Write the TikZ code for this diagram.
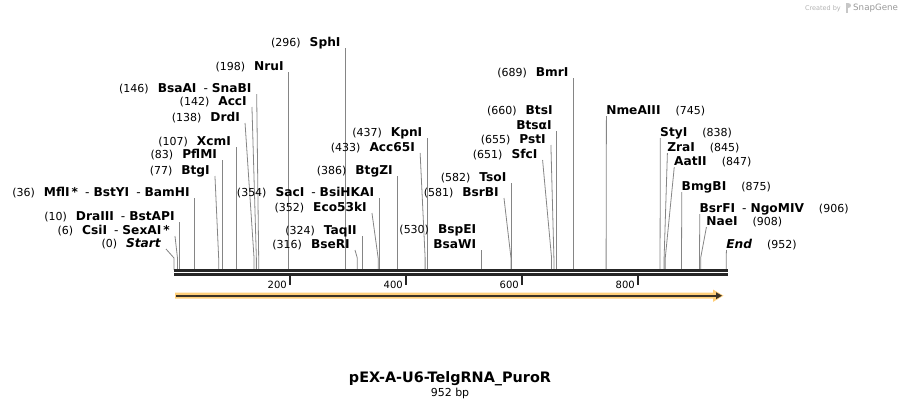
\documentclass[tikz,border=0pt]{standalone}
\usepackage{fontspec}
\setmainfont{DejaVu Sans}
\usetikzlibrary{arrows.meta,positioning}
\definecolor{cutgray}{HTML}{858585}
\definecolor{bardark}{HTML}{262626}
\definecolor{featfill}{HTML}{FFCF7A}
\definecolor{featline}{HTML}{3C3326}
\newcommand\numf[1]{{\fontsize{11}{13}\selectfont #1}}
\newcommand\enzf[1]{{\fontsize{12.2}{14}\selectfont\bfseries #1}}
\newcommand\leftlab[2]{\numf{(#1)}\hspace{9pt}\enzf{#2}}
\newcommand\rightlab[2]{\enzf{#1}\hspace{15pt}\numf{(#2)}}
\newcommand\dsep{\hspace{7pt}{\mdseries -}\hspace{4pt}}
\tikzset{
  cutline/.style={draw=cutgray,line width=0.8pt},
  barline/.style={draw=bardark,line width=2.7pt},
  ticks/.style={draw=bardark,line width=1.6pt},
  lab/.style={inner sep=0pt},
}
\begin{document}
\begin{tikzpicture}[x=1pt,y=-1pt]
\useasboundingbox (0,0) rectangle (902,408);
\def\sx#1{174+0.58*#1}
\foreach \p/\dx/\ly/\t in {
  0/-8/247/{\leftlab{0}{\itshape Start}},
  6/-2.5/234/{\leftlab{6}{CsiI\dsep SexAI\,*}},
  10/0/220/{\leftlab{10}{DraIII\dsep BstAPI}},
  36/0/196/{\leftlab{36}{MflI\,*\dsep BstYI\dsep BamHI}},
  77/-3.7/174/{\leftlab{77}{BtgI}},
  83/0/158/{\leftlab{83}{PflMI}},
  107/0/145/{\leftlab{107}{XcmI}},
  138/-9/121/{\leftlab{138}{DrdI}},
  142/-4.4/105/{\leftlab{142}{AccI}},
  146/-2/92/{\leftlab{146}{BsaAI\dsep SnaBI}},
  198/0/70/{\leftlab{198}{NruI}},
  296/0/46/{\leftlab{296}{SphI}},
  316/-2.3/248/{\leftlab{316}{BseRI}},
  324/0/234/{\leftlab{324}{TaqII}},
  352/-6.2/211/{\leftlab{352}{Eco53kI}},
  354/0/196/{\leftlab{354}{SacI\dsep BsiHKAI}},
  386/0/174/{\leftlab{386}{BtgZI}},
  433/-5/151/{\leftlab{433}{Acc65I}},
  437/0/136/{\leftlab{437}{KpnI}},
  530/0/248/{\enzf{BsaWI}},
  581/-7/196/{\leftlab{581}{BsrBI}},
  582/0/181/{\leftlab{582}{TsoI}},
  651/-9/158/{\leftlab{651}{SfcI}},
  655/-3/143/{\leftlab{655}{PstI}},
  660/0/129/{\enzf{BtsαI}},
  689/0/76/{\leftlab{689}{BmrI}}}{
  \node[lab,anchor=base east] (l\p) at ({\sx{\p}+\dx-5},\ly) {\t};
  \draw[cutline] ({\sx{\p}},270) -- ({\sx{\p}},258) -- ([shift={(5,2)}]l\p.base east);
}
\node[lab,anchor=base east] (l530top) at ([shift={(0,-14.5)}]l530.base east) {\leftlab{530}{BspEI}};
\node[lab,anchor=base east] (l660top) at ([shift={(1,-14.5)}]l660.base east) {\leftlab{660}{BtsI}};
\foreach \p/\dx/\ly/\t in {
  745/0/114/{\rightlab{NmeAIII}{745}},
  838/0/136/{\rightlab{StyI}{838}},
  845/3/151/{\rightlab{ZraI}{845}},
  847/8.7/165/{\rightlab{AatII}{847}},
  875/0/190/{\rightlab{BmgBI}{875}},
  906/0/212/{\rightlab{BsrFI\dsep NgoMIV}{906}},
  908/5.5/225/{\rightlab{NaeI}{908}},
  952/0/248/{\rightlab{\itshape End}{952}}}{
  \node[lab,anchor=base west] (r\p) at ({\sx{\p}+\dx},\ly) {\t};
  \draw[cutline] ({\sx{\p}},270) -- ({\sx{\p}},258) -- ([shift={(0.3,2)}]r\p.base west);
}
\draw[barline] (174,270.4) -- (727.7,270.4);
\draw[barline] (174,274.3) -- (727.7,274.3);
\foreach \v in {200,400,600,800}{
  \draw[ticks] ({\sx{\v}},275.5) -- ++(0,9.5);
  \node[lab,anchor=base east,font=\fontsize{10}{12}\selectfont] (t\v) at ({\sx{\v}-3},288.5) {\v};
}
\fill[featfill] (175,292.7) -- (713,292.7) -- (713,289.5) -- (723.5,295.7) -- (713,301.9) -- (713,298.7) -- (175,298.7) -- cycle;
\draw[featline,line width=2pt,-{Triangle[length=6pt,width=6.5pt]}] (176,295.7) -- (722,295.7);
\node[lab,anchor=base,font=\fontsize{14.4}{16}\selectfont\bfseries] (title) at (450,382) {pEX-A-U6-TelgRNA\_PuroR};
\node[lab,below=2.2pt of title,font=\fontsize{11}{13}\selectfont] (bp) {952 bp};
\node[lab,anchor=base east,text=black!30,font=\fontsize{6.5}{8}\selectfont] (made) at (841,10) {Created by};
\fill[black!22] (845.5,3) rectangle (848.3,12.5);
\fill[black!22] (848.3,3) .. controls (852,3) and (852,8) .. (848.3,8) -- cycle;
\node[lab,anchor=base west,text=black!40,font=\fontsize{8.7}{10}\selectfont] (snap) at (853,10.5) {SnapGene};
\end{tikzpicture}
\end{document}
